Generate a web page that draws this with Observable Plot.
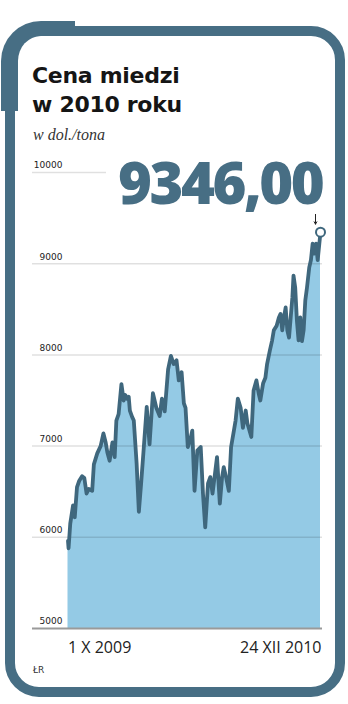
<!DOCTYPE html>
<html>
<head>
<meta charset="utf-8">
<script src="https://cdn.jsdelivr.net/npm/d3@7"></script>
<script src="https://cdn.jsdelivr.net/npm/@observablehq/plot@0.6"></script>
<style>
  html, body { margin: 0; padding: 0; background: #fff; }
  #page { position: relative; width: 348px; height: 704px; overflow: hidden; background: #fff; }
  #frame { position: absolute; left: 5px; top: 26px; width: 320px; height: 651px; border: 10px solid #476e84; border-radius: 34px; }
  #notch { position: absolute; left: 1px; top: 21px; width: 57px; height: 75px; border-top: 15px solid #476e84; border-left: 17px solid #476e84; border-top-left-radius: 40px 40px; }
  #title { position: absolute; left: 32px; top: 61px; font-family: "DejaVu Sans", sans-serif; font-weight: bold; font-size: 22px; line-height: 29px; color: #151515; letter-spacing: -0.3px; }
  #subtitle { position: absolute; left: 33px; top: 126px; font-family: "Liberation Serif", "DejaVu Serif", serif; font-style: italic; font-size: 16px; color: #333; }
  #chart { position: absolute; left: 0; top: 150px; }
  #big { position: absolute; left: 106px; top: 150px; padding-left: 12px; background: #fff; font-family: "Open Sans", Lato, sans-serif; font-weight: 800; font-size: 58px; line-height: 64px; letter-spacing: -2.5px; color: #476e84; }
  #credit { position: absolute; left: 33px; top: 665px; font-family: "DejaVu Sans", sans-serif; font-size: 9px; color: #333; }
</style>
</head>
<body>
<div id="page">
  <div id="frame"></div>
  <div id="notch"></div>
  <div id="title">Cena miedzi<br>w 2010 roku</div>
  <div id="subtitle">w dol./tona</div>
  <div id="chart"></div>
  <div id="big">9346,00</div>
  <div id="credit">ŁR</div>
</div>
<script>
const dates = ["2009-10-01","2009-10-02","2009-10-05","2009-10-10","2009-10-13","2009-10-17","2009-10-21","2009-10-26","2009-10-30","2009-11-03","2009-11-07","2009-11-13","2009-11-16","2009-11-22","2009-11-28","2009-12-03","2009-12-07","2009-12-10","2009-12-14","2009-12-19","2009-12-23","2009-12-26","2009-12-30","2010-01-04","2010-01-08","2010-01-11","2010-01-14","2010-01-17","2010-01-19","2010-01-23","2010-01-26","2010-01-31","2010-02-04","2010-02-08","2010-02-12","2010-02-18","2010-02-23","2010-03-01","2010-03-07","2010-03-13","2010-03-17","2010-03-22","2010-03-28","2010-04-02","2010-04-07","2010-04-12","2010-04-16","2010-04-21","2010-04-25","2010-04-28","2010-05-02","2010-05-06","2010-05-10","2010-05-14","2010-05-19","2010-05-25","2010-05-29","2010-06-02","2010-06-07","2010-06-11","2010-06-15","2010-06-20","2010-06-23","2010-06-28","2010-07-02","2010-07-05","2010-07-09","2010-07-14","2010-07-18","2010-07-23","2010-07-26","2010-07-30","2010-08-04","2010-08-08","2010-08-13","2010-08-16","2010-08-23","2010-08-27","2010-09-01","2010-09-05","2010-09-08","2010-09-13","2010-09-17","2010-09-20","2010-09-25","2010-09-29","2010-10-02","2010-10-07","2010-10-11","2010-10-14","2010-10-17","2010-10-20","2010-10-23","2010-10-26","2010-10-29","2010-11-01","2010-11-04","2010-11-06","2010-11-09","2010-11-12","2010-11-15","2010-11-18","2010-11-21","2010-11-24","2010-11-27","2010-11-30","2010-12-04","2010-12-07","2010-12-10","2010-12-13","2010-12-16","2010-12-19","2010-12-24"];
const prices = [5960,5880,6150,6350,6220,6550,6620,6670,6650,6480,6530,6510,6800,6920,7000,7140,7040,6930,6840,7040,6880,7280,7350,7680,7500,7560,7520,7540,7390,7320,7280,6810,6280,6590,6920,7430,7020,7580,7420,7330,7520,7380,7840,7990,7900,7940,7720,7810,7470,7420,6990,7060,7170,6510,6950,6990,6480,6110,6590,6660,6480,6730,6880,6370,6660,6770,6660,6510,6990,7170,7280,7520,7420,7200,7390,7250,7100,7610,7720,7580,7500,7690,7750,7900,8050,8160,8270,8320,8410,8450,8270,8410,8520,8270,8190,8410,8630,8870,8740,8380,8160,8410,8150,8270,8600,8740,8960,9040,9220,9110,9220,9040,9346];
const yTicks = [5000, 6000, 7000, 8000, 9000, 10000];
const xTickLabels = ["1 X 2009", "24 XII 2010"];

const data = dates.map((d, i) => ({date: new Date(d + "T00:00:00Z"), value: prices[i]}));
const first = data[0];
const last = data[data.length - 1];
const lineColor = "#3f677d";

const chart = Plot.plot({
  width: 348,
  height: 510,
  marginLeft: 32,
  marginRight: 26,
  marginTop: 22,
  marginBottom: 32,
  style: {background: "transparent", overflow: "visible"},
  x: {type: "utc", domain: [first.date, last.date], insetLeft: 35.5, insetRight: 2},
  y: {domain: [5000, 10000]},
  marks: [
    Plot.areaY(data, {x: "date", y1: 5000, y2: "value", fill: "#94cae5"}),
    Plot.ruleY(yTicks.slice(1), {stroke: "#000", strokeOpacity: 0.12, strokeWidth: 1.5}),
    Plot.ruleY([yTicks[0]], {stroke: "#9a9a9a", strokeWidth: 1.8}),
    Plot.lineY(data, {x: "date", y: "value", stroke: lineColor, strokeWidth: 3.8, strokeLinejoin: "round", strokeLinecap: "round"}),
    Plot.arrow([last], {x1: "date", x2: "date", y1: d => d.value + 320, y2: "value", dx: -5, insetEnd: 8, headLength: 4, stroke: "#222", strokeWidth: 1}),
    Plot.dot([last], {x: "date", y: "value", r: 4.5, fill: "#fff", stroke: lineColor, strokeWidth: 2}),
    Plot.axisY({ticks: yTicks, tickFormat: d => String(d), label: null, tickSize: 0, tickPadding: 0, dx: 30, dy: -7, textAnchor: "end", fontSize: 9, fontFamily: "DejaVu Sans", fill: "#222"}),
    Plot.axisX({ticks: [first.date], tickFormat: () => xTickLabels[0], label: null, tickSize: 0, tickPadding: 13, textAnchor: "start", fontSize: 16, fontFamily: "Open Sans", fill: "#222"}),
    Plot.axisX({ticks: [last.date], tickFormat: () => xTickLabels[1], label: null, tickSize: 0, tickPadding: 13, textAnchor: "end", fontSize: 16, fontFamily: "Open Sans", fill: "#222", dx: 1})
  ]
});
document.getElementById("chart").appendChild(chart);
</script>
</body>
</html>
